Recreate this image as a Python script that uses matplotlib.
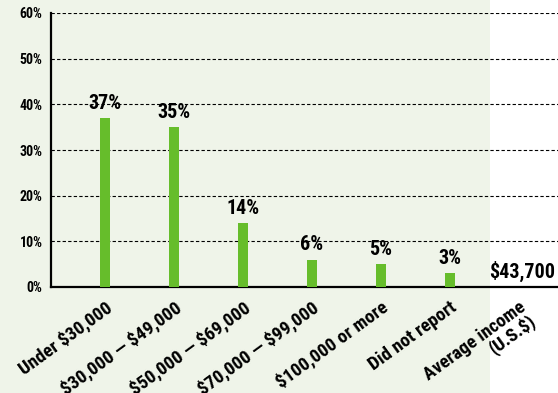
import matplotlib.pyplot as plt
from matplotlib import font_manager
from matplotlib.patches import Rectangle

# income brackets and share of respondents (%)
categories = ["Under \\$30,000", "\\$30,000 \u2014 \\$49,000", "\\$50,000 \u2014 \\$69,000",
              "\\$70,000 \u2014 \\$99,000", "\\$100,000 or more", "Did not report",
              "Average income\n(U.S.\\$)"]
shares = [37, 35, 14, 6, 5, 3]
value_labels = ["37%", "35%", "14%", "6%", "5%", "3%"]
average_income = "\\$43,700"
yticks = [0, 10, 20, 30, 40, 50, 60]

# pick a narrow bold face if one is installed
installed = {f.name for f in font_manager.fontManager.ttflist}
family = next((n for n in ['Liberation Sans Narrow', 'DejaVu Sans Condensed',
                           'Roboto Condensed', 'Roboto']
               if n in installed), 'DejaVu Sans')
plt.rcParams['font.family'] = [family, 'DejaVu Sans']
plt.rcParams['font.weight'] = 'bold'

bar_color = '#66bd2b'
panel_color = '#eff4e9'

fig = plt.figure(figsize=(5.58, 3.93), dpi=100)
fig.patch.set_facecolor('white')
# shaded panel behind the bracket columns
fig.add_artist(Rectangle((0, 0), 490 / 558, 1, transform=fig.transFigure,
                         facecolor=panel_color, edgecolor='none', zorder=-5))

ax = fig.add_axes([51 / 558, 1 - 287 / 393, 1 - 51 / 558, (287 - 13) / 393])
ax.patch.set_alpha(0)

x = list(range(len(shares)))
ax.bar(x, shares, width=0.15, color=bar_color, zorder=3)
for xi, v, lab in zip(x, shares, value_labels):
    ax.text(xi, v + 1.2, lab, ha='center', va='bottom', fontsize=14.5,
            fontweight='bold', zorder=4)

avg_x = len(shares)
ax.text(avg_x + 0.05, 1.0, average_income, ha='center', va='bottom',
        fontsize=14.5, fontweight='bold', zorder=4)

ax.set_xlim(-0.78, 6.57)
ax.set_ylim(0, 60)
ax.set_yticks(yticks)
ax.set_yticklabels([f"{t}%" for t in yticks], fontsize=10, fontweight='bold')
ax.set_xticks(range(len(categories)))
ax.set_xticklabels(categories, rotation=36, ha='right', rotation_mode='anchor',
                   fontsize=13.5, fontweight='bold', multialignment='right',
                   linespacing=0.9)
ax.tick_params(axis='both', length=0, pad=6)
ax.tick_params(axis='x', pad=8)

for t in yticks[1:]:
    ax.axhline(t, color='black', linewidth=0.8, linestyle=(0, (3, 2)), zorder=1)

for side in ['top', 'right']:
    ax.spines[side].set_visible(False)
ax.spines['left'].set_linewidth(1.6)
ax.spines['bottom'].set_linewidth(1.6)

fig.savefig('out.png', dpi=100)
